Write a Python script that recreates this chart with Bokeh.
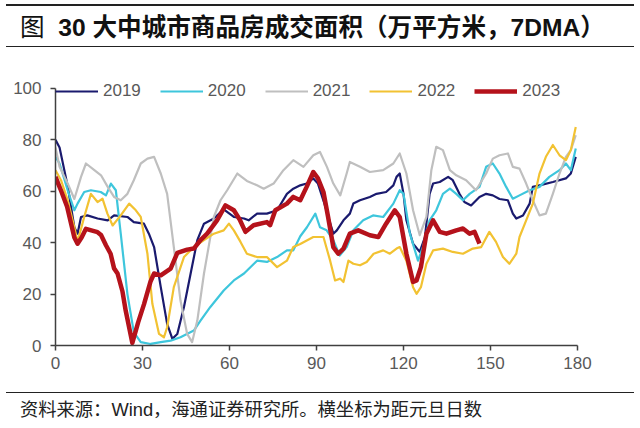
from bokeh.plotting import figure
from bokeh.models import Div, Legend, LegendItem, FixedTicker, Range1d
from bokeh.layouts import column
from bokeh.embed import file_html
from bokeh.resources import INLINE

title_text = "30 大中城市商品房成交面积（万平方米，7DMA）"
source_text = "资料来源：Wind，海通证券研究所。横坐标为距元旦日数"
x_ticks = [0, 30, 60, 90, 120, 150, 180]
y_ticks = [0, 20, 40, 60, 80, 100]

d2019 = [0,1.4,4.2,6.5,7.6,8.8,11,14.5,18,20.2,24.8,27,30.5,32.2,34,36.3,38.5,40.3,42,44.3,46.6,48.9,51.2,54.6,58,61.5,65,66.6,69.5,72.9,76.4,79.8,82,84.4,86.6,88.9,90.5,92.5,95.8,97,99.3,101.5,102.7,105,108.4,110.7,114,116.5,117.6,118.7,120,121,123.3,125.6,127.4,129,130.2,132.5,135.4,137,139.3,141,143.3,146.2,148.5,150.8,153.1,156,157.7,158.9,161.2,163.5,164.6,166.9,171.5,176,177.7,179.4]
v2019 = [80,77,62,46,43.5,50,50.6,49.4,48.7,50.6,50,48,47.4,43.5,38.3,22.7,8.4,2.6,4.5,15,28,41,47.4,49.4,53,50,49.4,48.7,51.3,51.3,52.6,59,61,62.3,63,65,63,56,43.5,44.8,48.7,51.3,55.2,56.5,57.8,59,59.7,62.3,65.6,66.9,59,48.7,39.6,36.4,42.2,59,63,63.6,65.6,64.3,59,55.8,54.5,57.8,59,58.4,57,56.5,51.3,49.4,50.6,55.2,61.7,62.3,63.6,65,66.9,73.4]

d2020 = [0,1.4,4.2,6.5,7.6,9.9,12.2,15.6,17.4,19.1,20.8,22.5,24.8,27,29.4,32.8,36.3,39.7,43.1,47.7,50,53.4,58,61.5,65,69.5,72.9,76.4,79.8,82,84.4,86.7,89.6,91.2,93.5,95.8,98,100.4,102.7,106.1,109.5,113,116.5,118.7,120,122.2,125,126.7,129,131.3,133.6,136,138.2,140.5,142.8,146.2,148.5,150.8,153.1,155.4,157.7,160,163.5,166.9,170.3,173.8,176,177.7,179.4]
v2020 = [73.4,70.8,60.4,52.6,55.2,59.7,60.4,59.7,58.4,63,60.4,43.5,20,5.2,1.3,0.6,1.3,1.9,3.2,5.8,9.7,15,21.4,25.3,28,33,32.5,34.4,37,37,42.5,46,51.3,46,44.8,41,35,38.3,44.8,48.7,50.6,50,55.2,60.4,59,43.5,33,38.3,48.7,52.6,59,61,59,56.5,59,61.7,69.5,70.8,66.9,61.7,57.1,58.4,60.4,61.7,65.6,68.2,70.8,68.2,76.6]

d2021 = [0,1.4,4.2,6.5,8.8,10.5,13.4,15.7,18,20.2,22.5,24.8,27,29.4,31.7,34,36.3,38.5,40.8,43.1,45.4,47.1,48.9,51.2,54.6,56.9,59.2,62.7,66,69.5,71.8,75.2,78.6,82,85.5,88.9,91.2,93.6,95.8,98.2,100.4,101.5,105,108.4,113,116.5,118.7,121,123.3,125.6,127.9,129.6,131.3,133.6,136,138.2,141.6,145,148.5,150.8,153.1,156,157.7,160,162.3,164.6,166.9,169.1,171.5,173.8,176,177.7,179.4]
v2021 = [77,69.5,63,57,65.6,70.8,68.2,66.2,61.7,57.8,56.5,59,64.3,70.8,72.7,73.4,66.9,59,38.3,17.5,4.5,1.3,9.7,28,50,56.5,60.4,66.9,64,62.3,61,63,68.2,72.1,69.5,74,75.3,69.5,63,58.4,66.9,71.4,69.5,67.5,68.2,70.8,74.7,66.9,52.6,42.9,50,68.2,77.3,76,68.2,66.2,64.3,60.4,66.9,72.7,74,74.7,69.5,68.8,63,56.5,50.6,51.3,59,66.9,73.4,76,81.8]

d2022 = [0,1.9,4.2,6.5,7.6,9.9,12.2,14.5,16.2,17.9,19.7,22.5,25.4,27.7,29.4,31.7,33.4,35.7,37.4,38.5,40.8,44.3,47.7,51.2,54.6,58,59.8,61.5,63.8,66,69.5,72.9,76.4,79.8,82,84.4,88.9,92.4,94.7,96.4,98.2,99.3,101,102.7,105,107.3,109.7,113,115.3,117.6,118.7,121,123.3,124.5,126,127.9,130.2,133.6,137,140.5,143.9,146.8,149.6,151.9,154.3,156.5,158.9,160,162.3,164.6,166.9,169.1,171.5,173.8,176,177.7,179.4]
v2022 = [68.2,64.3,56.5,46,40.3,50,59,55.8,57.1,51.3,46.7,50.6,55.2,52.6,50,35.7,16.2,4.5,3.2,7.1,22.7,34.4,38.3,41,43.5,44.8,47.4,44.8,40.3,35.7,34.4,34.4,30.5,33,38.3,39.5,42.2,42.2,33,25.3,26,24.7,33,31.8,31.2,32.5,35.7,37,35.7,37.7,38.3,33,22.7,20.1,22.7,31.8,37,37.7,36.4,35.7,37.7,38.3,44.2,40.3,34.4,31.8,35.7,42.2,48.7,55.2,66.9,73.4,78,74,72.1,76,85]

d2023 = [0,2,4,6.5,7.6,9,10.5,14.5,15.7,17.4,19,20.2,21.4,23.1,24.2,26.5,28.5,30.5,32.8,34,36.3,39.7,42,45.4,47.7,50,52.3,55.7,58.6,61.5,63.5,65.5,68.3,72.9,74,75.8,79.8,82,84.4,86.6,88.9,90.5,92.4,94,95.8,97.5,99.3,101.5,104.4,108.4,111.3,114,117,118.7,121,123.3,124.5,126,127.9,130.2,132.5,134.8,138.2,140.5,142.8,144.5,146.2]
v2023 = [65.6,60,54,42,39.6,42,45.4,44.1,43,39,35.7,30,28,21,13.6,1,9,16,25,28,27.3,29.9,36,37.3,37.7,41,43.5,48.7,54.5,52.6,49,44.2,46.8,48,46.8,52.6,55.2,57.8,56.5,61.7,67.5,65,59.7,50,38.3,35.7,37.7,43.5,44.8,42.9,42.2,47.4,52.6,50,35.7,24.7,25.3,30.5,43.5,48.7,44.2,43.5,44.8,45.5,43.5,44.2,39.6]

series = [
    ("2019", d2019, v2019, "#1A1A6E", 2.2),
    ("2020", d2020, v2020, "#3EC6DC", 2.2),
    ("2021", d2021, v2021, "#BFBFBF", 2.2),
    ("2022", d2022, v2022, "#F2C232", 2.2),
    ("2023", d2023, v2023, "#B5121B", 4.5),
]

W = 640

title = Div(
    text='<div style="box-sizing:border-box;width:628px;margin:4px 0 0 6px;height:43px;'
         'border-top:2px solid #222;border-bottom:1.5px solid #222;line-height:39px;'
         'padding-left:14px;white-space:nowrap;'
         'font-family:\'Liberation Sans\',\'Noto Sans CJK SC\';font-size:24.6px;color:#111;">'
         '<span style="font-family:\'Noto Sans CJK SC\';">图</span>&nbsp;&nbsp;<b>'
         + title_text + '</b></div>',
    width=W, height=48, margin=(0, 0, 0, 0))

p = figure(width=W, height=344, x_range=Range1d(0, 180), y_range=Range1d(0, 106.2),
           output_backend="svg", toolbar_location=None,
           min_border_left=55, min_border_right=63, min_border_top=24, min_border_bottom=47)
p.outline_line_color = None
p.xgrid.visible = False
p.ygrid.visible = False
p.background_fill_color = "white"

items = []
for name, xs, ys, color, w in series:
    r = p.line(xs, ys, line_color=color, line_width=w, line_join="round")
    items.append(LegendItem(label=name, renderers=[r]))

for ax in (p.xaxis[0], p.yaxis[0]):
    ax.axis_line_color = "#404040"
    ax.axis_line_width = 1.5
    ax.major_tick_line_color = "#404040"
    ax.major_tick_line_width = 1.5
    ax.major_tick_out = 5
    ax.major_tick_in = 0
    ax.minor_tick_line_color = None
    ax.major_label_text_font = "Liberation Sans"
    ax.major_label_text_font_size = "17px"
    ax.major_label_text_color = "#595959"
p.xaxis.ticker = FixedTicker(ticks=x_ticks)
p.yaxis.ticker = FixedTicker(ticks=y_ticks)
p.yaxis.bounds = (0, 100)
p.xaxis.major_label_standoff = 6
p.yaxis.major_label_standoff = 9

legend = Legend(items=items, orientation="horizontal", location=(0, 244),
                glyph_width=43, glyph_height=20, label_standoff=5, spacing=19,
                padding=0, margin=0, border_line_alpha=0, background_fill_alpha=0,
                label_text_font="Liberation Sans", label_text_font_size="17px",
                label_text_color="#595959", label_height=20)
p.add_layout(legend)

footer = Div(
    text='<div style="box-sizing:border-box;width:628px;margin-left:6px;height:32px;'
         'border-top:1.5px solid #222;padding-top:6px;padding-left:14px;line-height:22px;'
         'white-space:nowrap;font-family:\'Liberation Sans\',\'Noto Sans CJK SC\';'
         'font-size:18.3px;color:#222;">'
         + source_text + '</div>',
    width=W, height=34, margin=(0, 0, 0, 0))

layout = column(title, p, footer, spacing=0)
open("out.html", "w").write(file_html(layout, INLINE))
